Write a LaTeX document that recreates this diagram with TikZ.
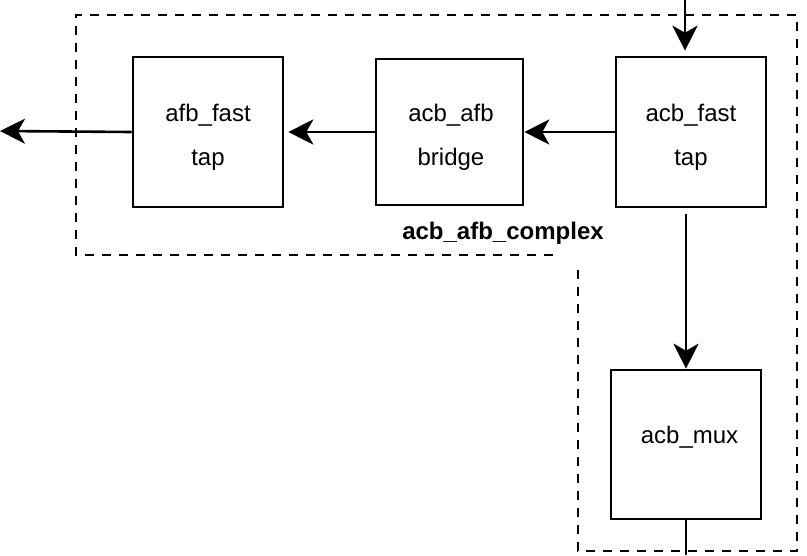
\documentclass[tikz,border=0pt]{standalone}
\usepackage{fontspec}
\setmainfont{Liberation Sans}
\usetikzlibrary{arrows.meta}
\begin{document}
\begin{tikzpicture}[x=1pt,y=-1pt,line join=miter,
  every node/.style={font=\fontsize{24}{44}\selectfont},
  blk/.style={draw,line width=2.6pt,inner sep=0pt,
    minimum width=150pt,minimum height=150pt},
  blktext/.style={align=center,inner sep=0pt},
  flow/.style={line width=2.6pt,-{Stealth[length=25pt,width=25pt,inset=7pt]}},
  grp/.style={line width=2.4pt,dash pattern=on 9pt off 8pt}]
  \useasboundingbox (0,0) rectangle (807,555);
  % group outline
  \draw[grp] (553,255) -- (76,255) -- (76,15) -- (797,15) -- (797,551)
    -- (578,551) -- (578,268);
  \node[font=\fontsize{24}{28}\selectfont\bfseries] (grplabel) at (503,233) {acb\_afb\_complex};
  % blocks
  \node[blk] (afbfast) at (208,132) {};
  \node[blk,minimum width=147pt,minimum height=146pt] (bridge) at (449.5,132) {};
  \node[blk] (acbfast) at (691,132) {};
  \node[blk,minimum height=149pt] (mux) at (686,444.5) {};
  \node[blktext] (afbfasttext) at ([yshift=-5pt]afbfast.center) {afb\_fast\\tap};
  \node[blktext] (bridgetext) at ([xshift=1.5pt,yshift=-5pt]bridge.center) {acb\_afb\\bridge};
  \node[blktext] (acbfasttext) at ([yshift=-5pt]acbfast.center) {acb\_fast\\tap};
  \node[blktext] (muxtext) at ([xshift=3.5pt,yshift=7pt]mux.center) {acb\_mux};
  % free ends
  \coordinate (top) at (685,0);
  \coordinate (out) at (0,131);
  \coordinate (bot) at (686,555);
  % connectors
  \draw[flow,shorten >=5pt] (top) -- (top |- acbfast.north);
  \draw[flow] (acbfast.west) -- (bridge.east);
  \draw[flow,shorten >=4pt] (bridge.west) -- (afbfast.east);
  \draw[flow] (afbfast.west) -- (out);
  \draw[flow,shorten <=6pt] (acbfast.south -| mux.north) -- (mux.north);
  \draw[line width=2.6pt] (mux.south -| bot) -- (bot);
\end{tikzpicture}
\end{document}
